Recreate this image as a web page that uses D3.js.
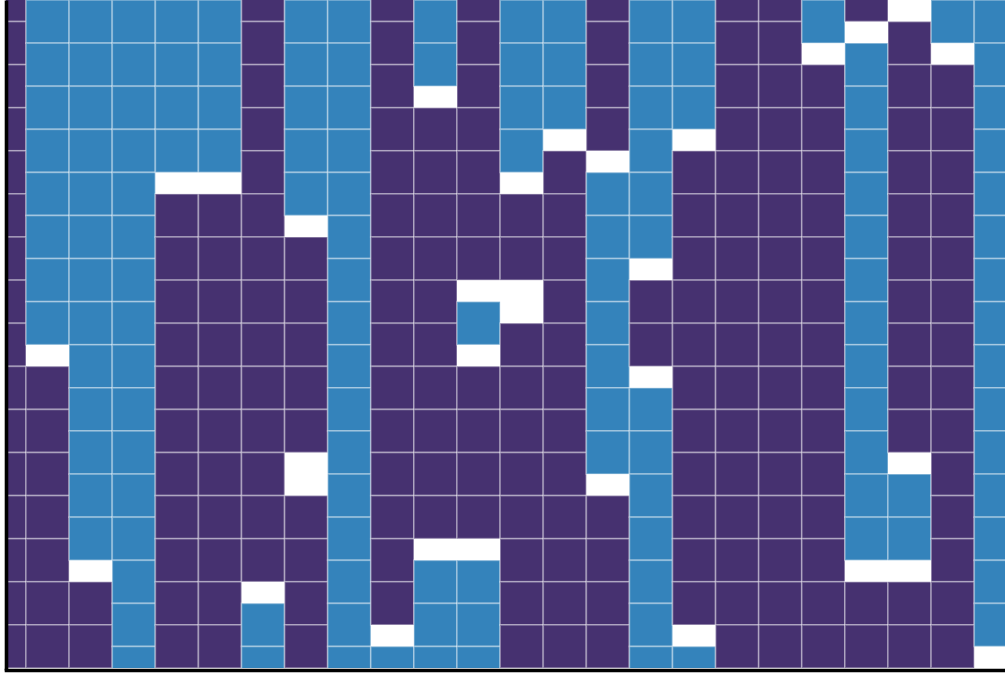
<!DOCTYPE html>
<html>
<head>
<meta charset="utf-8">
<script src="https://cdn.jsdelivr.net/npm/d3@7"></script>
<style>
  html, body { margin: 0; padding: 0; background: #ffffff; }
  svg { display: block; }
</style>
</head>
<body>
<svg id="chart" width="1005" height="674"></svg>
<script>
// ---- data ----
// column labels (left to right, first and last are partially visible)
const columns = ["c0","c1","c2","c3","c4","c5","c6","c7","c8","c9","c10","c11",
                 "c12","c13","c14","c15","c16","c17","c18","c19","c20","c21","c22","c23"];

// series / categories
const categories = ["B", "P"];           // B = blue series, P = purple series
const categoryColors = ["#3483bb", "#463170"];
// half-cell parity at which the cells of each category are aligned
const categoryOffset = [0, 1];

// runs per column, top to bottom, in half-cell units: [category, length]; "_" = empty
const columnRuns = [
  [["P",31]],
  [["B",16],["_",1],["P",14]],
  [["B",26],["_",1],["P",4]],
  [["B",31]],
  [["B",8],["_",1],["P",22]],
  [["B",8],["_",1],["P",22]],
  [["P",27],["_",1],["B",3]],
  [["B",10],["_",1],["P",10],["_",2],["P",8]],
  [["B",31]],
  [["P",29],["_",1],["B",1]],
  [["B",4],["_",1],["P",20],["_",1],["B",5]],
  [["P",13],["_",1],["B",2],["_",1],["P",8],["_",1],["B",5]],
  [["B",8],["_",1],["P",4],["_",2],["P",16]],
  [["B",6],["_",1],["P",24]],
  [["P",7],["_",1],["B",14],["_",1],["P",8]],
  [["B",12],["_",1],["P",4],["_",1],["B",13]],
  [["B",6],["_",1],["P",22],["_",1],["B",1]],
  [["P",31]],
  [["P",31]],
  [["B",2],["_",1],["P",28]],
  [["P",1],["_",1],["B",24],["_",1],["P",4]],
  [["_",1],["P",20],["_",1],["B",4],["_",1],["P",4]],
  [["B",2],["_",1],["P",28]],
  [["B",30],["_",1]]
];

// ---- layout ----
const W = 1005, H = 674;
const cell = 43.1;
const plotBottom = 668;
const firstColLeft = 26 - cell;

const svg = d3.select("#chart");

const x = d3.scaleBand()
  .domain(columns)
  .range([firstColLeft, firstColLeft + cell * columns.length])
  .padding(0);

// y in half-cell units
const y = d3.scaleLinear().domain([0, 31]).range([0, plotBottom]);

const colorScale = d3.scaleOrdinal().domain(categories).range(categoryColors);
const offsetOf = c => categoryOffset[categories.indexOf(c)];

// build cells
const cells = [];
columnRuns.forEach((runs, ci) => {
  let pos = 0;
  runs.forEach(([cat, len]) => {
    const a = pos, b = pos + len;
    if (cat !== "_") {
      const p = offsetOf(cat);
      let s = (((a - p) % 2) + 2) % 2 === 0 ? a : a - 1;
      for (; s < b; s += 2) {
        cells.push({ col: columns[ci], cat, u0: s, u1: s + 2 });
      }
    }
    pos = b;
  });
});

svg.append("defs").append("clipPath").attr("id", "plotClip")
  .append("rect").attr("x", 6).attr("y", 0).attr("width", W).attr("height", plotBottom);

const g = svg.append("g").attr("clip-path", "url(#plotClip)");

g.selectAll("rect.cell")
  .data(cells)
  .join("rect")
  .attr("class", "cell")
  .attr("x", d => x(d.col))
  .attr("y", d => y(d.u0))
  .attr("width", x.bandwidth())
  .attr("height", d => y(d.u1) - y(d.u0))
  .attr("fill", d => colorScale(d.cat))
  .attr("stroke", "#ffffff")
  .attr("stroke-opacity", 0.33)
  .attr("stroke-width", 1.8);

// axes (spines only, no tick labels)
const yAxisScale = d3.scaleLinear().domain([0, 1]).range([plotBottom + 2, 0]);
svg.append("g")
  .attr("transform", "translate(6,0)")
  .call(d3.axisLeft(yAxisScale).ticks(0).tickSizeOuter(0))
  .call(s => s.select(".domain").attr("stroke", "#000").attr("stroke-width", 3.6));

const xAxisScale = d3.scaleLinear().domain([0, 1]).range([4.2, W]);
svg.append("g")
  .attr("transform", `translate(0,${plotBottom + 2})`)
  .call(d3.axisBottom(xAxisScale).ticks(0).tickSizeOuter(0))
  .call(s => s.select(".domain").attr("stroke", "#000").attr("stroke-width", 3.6));
</script>
</body>
</html>
